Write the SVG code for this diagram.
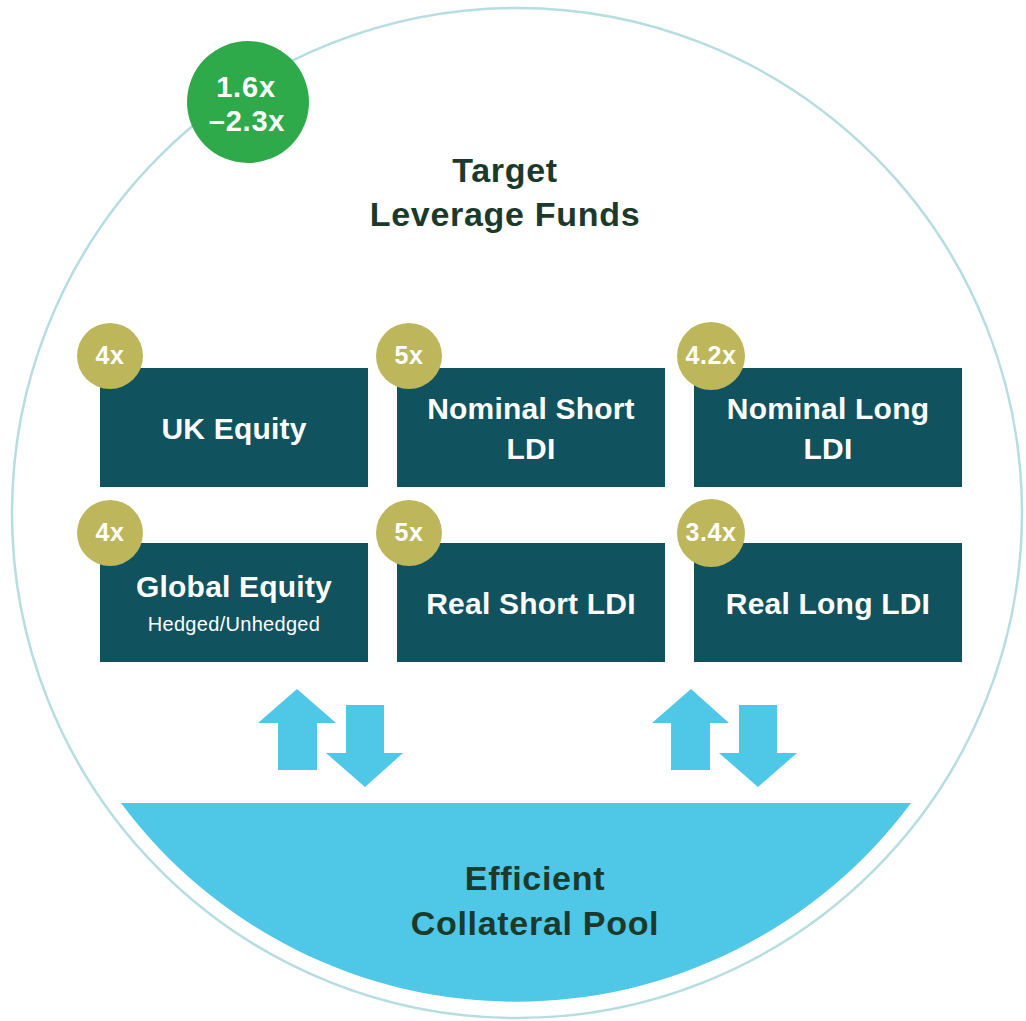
<svg xmlns="http://www.w3.org/2000/svg" width="1026" height="1021" viewBox="0 0 1026 1021">
<style>
.box{fill:#11525f}
.badge{fill:#bdb65a}
.arrow{fill:#4fc7e6}
.bt{font-family:"Liberation Sans",Arial,sans-serif;font-weight:bold;font-size:30px;fill:#ffffff;text-anchor:middle;letter-spacing:0.2px}
.sub{font-family:"Liberation Sans",Arial,sans-serif;font-size:20px;fill:#ffffff;text-anchor:middle;letter-spacing:0.3px}
.bd{font-family:"Liberation Sans",Arial,sans-serif;font-weight:bold;font-size:25px;fill:#ffffff;text-anchor:middle;letter-spacing:0.6px}
.title{font-family:"Liberation Sans",Arial,sans-serif;font-weight:bold;font-size:34px;fill:#1b3a2c;text-anchor:middle;letter-spacing:0.7px}
.gt{font-family:"Liberation Sans",Arial,sans-serif;font-weight:bold;font-size:29px;fill:#ffffff;text-anchor:middle;letter-spacing:0.8px}
</style>
<rect width="1026" height="1021" fill="#ffffff"/>
<g id="outer-circle">
<circle cx="517" cy="513" r="505" fill="none" stroke="#b5dde2" stroke-width="2.5"/>
</g>
<g id="pool">
<path d="M 121 803 A 492 492 0 0 0 911 803 Z" fill="#4fc7e6"/>
<text class="title" x="535" y="890" font-size="35">Efficient</text>
<text class="title" x="535" y="935" font-size="35">Collateral Pool</text>
</g>
<g id="leverage-badge">
<circle cx="248" cy="102" r="61" fill="#2eaa4a"/>
<text class="gt" x="246" y="97">1.6x</text>
<text class="gt" x="247" y="131">–2.3x</text>
</g>
<g id="title">
<text class="title" x="505" y="182">Target</text>
<text class="title" x="505" y="226">Leverage Funds</text>
</g>
<g id="uk-equity">
<rect class="box" x="100" y="368" width="268" height="119"/>
<circle class="badge" cx="110" cy="356" r="33"/>
<text class="bd" x="110" y="364">4x</text>
<text class="bt" x="234" y="439">UK Equity</text>
</g>
<g id="nominal-short">
<rect class="box" x="397" y="368" width="268" height="119"/>
<circle class="badge" cx="409" cy="356" r="33"/>
<text class="bd" x="409" y="364">5x</text>
<text class="bt" x="531" y="419">Nominal Short</text>
<text class="bt" x="531" y="459">LDI</text>
</g>
<g id="nominal-long">
<rect class="box" x="694" y="368" width="268" height="119"/>
<circle class="badge" cx="711" cy="356" r="34"/>
<text class="bd" x="711" y="364">4.2x</text>
<text class="bt" x="828" y="419">Nominal Long</text>
<text class="bt" x="828" y="459">LDI</text>
</g>
<g id="global-equity">
<rect class="box" x="100" y="543" width="268" height="119"/>
<circle class="badge" cx="110" cy="533" r="33"/>
<text class="bd" x="110" y="541">4x</text>
<text class="bt" x="234" y="597">Global Equity</text>
<text class="sub" x="234" y="631">Hedged/Unhedged</text>
</g>
<g id="real-short">
<rect class="box" x="397" y="543" width="268" height="119"/>
<circle class="badge" cx="409" cy="533" r="33"/>
<text class="bd" x="409" y="541">5x</text>
<text class="bt" x="531" y="614">Real Short LDI</text>
</g>
<g id="real-long">
<rect class="box" x="694" y="543" width="268" height="119"/>
<circle class="badge" cx="711" cy="533" r="34"/>
<text class="bd" x="711" y="541">3.4x</text>
<text class="bt" x="828" y="614">Real Long LDI</text>
</g>
<g id="connectors">
<path class="arrow" d="M297 689 L336 723 L317 723 L317 770 L278 770 L278 723 L258 723 Z"/>
<path class="arrow" d="M346 705 L384 705 L384 753 L403 753 L365 787 L326 753 L346 753 Z"/>
<path class="arrow" d="M691 689 L729 723 L710 723 L710 770 L671 770 L671 723 L652 723 Z"/>
<path class="arrow" d="M739 705 L777 705 L777 753 L797 753 L758 787 L719 753 L739 753 Z"/>
</g>
</svg>
